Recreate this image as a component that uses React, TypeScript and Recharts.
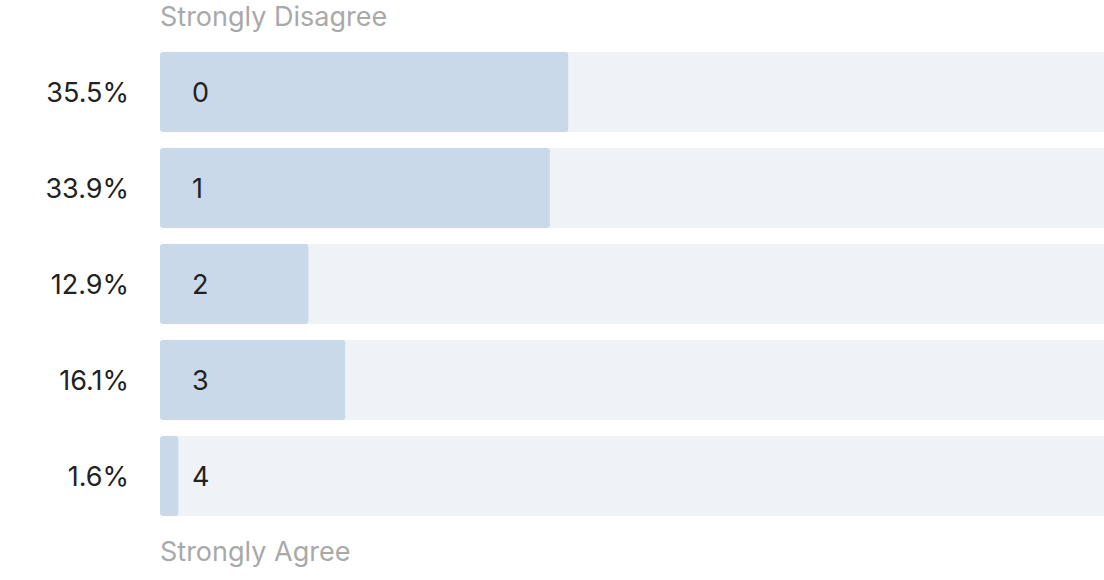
import { BarChart, Bar, XAxis, YAxis, LabelList } from "recharts";

const categories = ["0", "1", "2", "3", "4"];
const shares = [35.5, 33.9, 12.9, 16.1, 1.6];
const shareLabels = ["35.5%", "33.9%", "12.9%", "16.1%", "1.6%"];

const data = categories.map((name, i) => ({
  name,
  value: shares[i],
  pct: shareLabels[i],
}));

const FONT = "Inter, 'Open Sans', sans-serif";
const SIZE = 27;

export default function App() {
  return (
    <div
      style={{
        position: "absolute",
        left: 0,
        top: 0,
        width: 1104,
        height: 580,
        overflow: "hidden",
        background: "#fff",
        fontFamily: FONT,
      }}
    >
      <div
        style={{
          position: "absolute",
          left: 160,
          top: 2,
          fontSize: SIZE,
          color: "#a9a9a9",
          lineHeight: "30px",
          whiteSpace: "nowrap",
        }}
      >
        Strongly Disagree
      </div>
      <BarChart
        width={1310}
        height={580}
        data={data}
        layout="vertical"
        margin={{ top: 44, right: 0, bottom: 56, left: 0 }}
        barSize={80}
      >
        <XAxis type="number" domain={[0, 100]} hide />
        <YAxis
          type="category"
          dataKey="pct"
          width={160}
          axisLine={false}
          tickLine={false}
          tickSize={0}
          tickMargin={31}
          tick={{ fill: "#222", fontSize: SIZE, fontFamily: FONT }}
        />
        <Bar
          dataKey="value"
          fill="#c9d9e9"
          radius={3}
          background={{ fill: "#eff3f8", radius: 3 }}
          isAnimationActive={false}
        >
          <LabelList
            dataKey="name"
            position="insideLeft"
            offset={32}
            fill="#222"
            fontSize={SIZE}
            fontFamily={FONT}
          />
        </Bar>
      </BarChart>
      <div
        style={{
          position: "absolute",
          left: 160,
          top: 537,
          fontSize: SIZE,
          color: "#a9a9a9",
          lineHeight: "30px",
          whiteSpace: "nowrap",
        }}
      >
        Strongly Agree
      </div>
    </div>
  );
}
